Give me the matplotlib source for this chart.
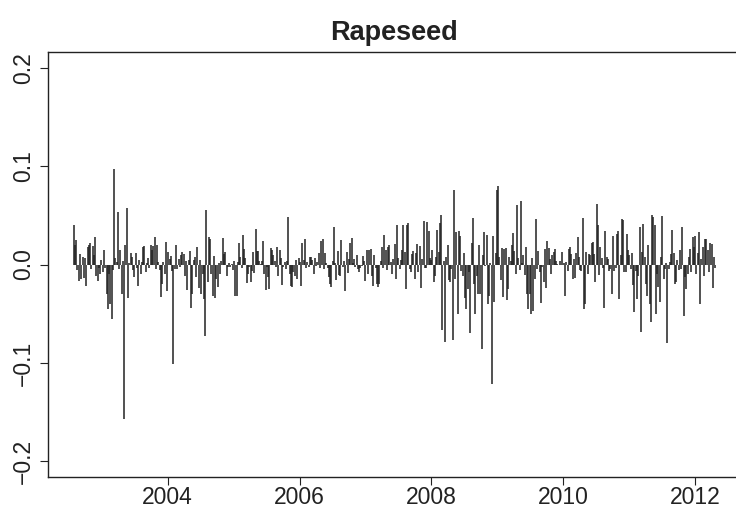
import numpy as np
import pandas as pd
import matplotlib
matplotlib.use('Agg')
import matplotlib.pyplot as plt
import matplotlib.dates as mdates

plt.rcParams['font.family'] = ['Liberation Sans', 'DejaVu Sans']

# Weekly returns of rapeseed (mid 2002 to spring 2012)
returns = [
    # 2002-07 .. 2004-02
    0.040, 0.020, 0.025, -0.006, -0.017, 0.011, -0.015, 0.008, -0.014, 0.007,
    -0.022, 0.018, 0.020, 0.022, -0.005, 0.019, 0.010, 0.028, -0.012, -0.017,
    -0.004, -0.010, 0.005, -0.008, 0.015, -0.004, -0.030, -0.045, -0.010, -0.040,
    -0.055, -0.006, 0.097, 0.007, 0.003, 0.053, -0.005, 0.015, -0.030, 0.004,
    -0.157, 0.020, 0.057, -0.034, 0.002, 0.012, 0.008, -0.006, -0.013, 0.012,
    -0.004, -0.022, 0.005, -0.010, 0.003, 0.018, 0.019, -0.008, 0.002, 0.007,
    -0.004, 0.020, 0.015, 0.019, 0.028, -0.005, 0.020, 0.003, -0.006, -0.033,
    -0.020, 0.003, -0.010, 0.023, -0.027, 0.013, 0.006, 0.009, -0.007, -0.101,
    -0.005, 0.020, -0.005, 0.006, -0.003,
    # 2004-03 .. 2005-10
    0.010, 0.013, 0.011, -0.012, 0.004, -0.026, 0.005, 0.014, -0.044, -0.030,
    0.005, 0.008, -0.013, 0.018, -0.024, 0.005, -0.030, -0.010, -0.035, -0.073,
    0.055, -0.018, 0.028, 0.026, -0.010, -0.032, 0.009, -0.034, -0.015, -0.023,
    0.002, -0.010, 0.004, 0.027, 0.011, 0.013, -0.012, -0.003, 0.002, -0.003,
    0.001, -0.006, 0.004, -0.032, -0.032, 0.003, 0.022, 0.008, -0.004, 0.030,
    0.016, 0.007, -0.019, -0.010, -0.003, -0.018, -0.007, 0.013, -0.009, 0.036,
    0.014, 0.014, 0.004, 0.001, 0.004, 0.024, -0.010, -0.026, -0.003, -0.013,
    -0.025, 0.017, 0.015, 0.010, 0.004, -0.003, 0.018, -0.012, 0.015, 0.007,
    -0.021, -0.003, 0.003, -0.005, 0.004,
    # 2005-11 .. 2007-07
    0.048, -0.010, -0.022, -0.023, -0.008, -0.012, 0.005, -0.015, 0.007, 0.003,
    -0.022, 0.022, 0.005, 0.026, -0.004, 0.003, -0.003, 0.008, 0.008, 0.005,
    -0.010, 0.007, -0.002, 0.003, 0.012, -0.004, 0.024, 0.026, -0.005, 0.012,
    0.002, -0.004, -0.013, -0.020, -0.023, 0.004, 0.038, 0.002, -0.016, 0.014,
    -0.011, -0.012, 0.025, -0.003, 0.004, -0.027, 0.013, -0.009, 0.006, 0.022,
    0.027, 0.002, 0.006, -0.003, 0.010, -0.005, -0.008, -0.004, -0.002, 0.009,
    0.004, -0.017, 0.015, -0.010, 0.015, 0.016, -0.012, -0.022, 0.010, -0.004,
    -0.020, -0.023, -0.020, 0.004, 0.018, -0.004, 0.030, 0.015, -0.006, 0.018,
    0.020, 0.003, -0.010, 0.006, 0.021, -0.015, 0.040, 0.007, -0.005,
    # 2007-07 .. 2009-03
    0.005, 0.015, 0.040, 0.013, -0.025, 0.040, 0.042, -0.005, -0.008, 0.011,
    0.014, -0.015, 0.012, 0.021, -0.008, 0.019, -0.024, 0.006, 0.044, -0.004,
    -0.004, 0.043, 0.034, 0.007, 0.005, 0.015, -0.018, -0.012, 0.008, 0.035,
    0.013, 0.042, 0.050, -0.067, 0.004, -0.079, 0.008, 0.020, -0.016, -0.018,
    -0.005, -0.077, 0.076, -0.015, 0.033, -0.050, 0.034, 0.029, -0.007, -0.012,
    0.012, -0.034, -0.045, -0.025, -0.008, -0.070, 0.022, 0.047, -0.020, -0.050,
    -0.012, -0.030, 0.020, -0.030, -0.086, 0.010, 0.033, -0.002, 0.030, -0.040,
    -0.032, 0.002, -0.121, 0.029, -0.038, 0.012, 0.076, 0.080, 0.008, -0.016,
    0.017, -0.033, 0.016, 0.017, -0.036, -0.025, 0.008, 0.004,
    # 2009-04 .. 2010-11
    0.020, 0.032, 0.014, -0.010, 0.060, 0.007, -0.006, 0.065, 0.002, 0.010,
    -0.011, 0.018, -0.030, -0.045, -0.030, -0.050, 0.007, -0.047, -0.015, 0.046,
    -0.005, 0.014, -0.008, -0.039, -0.003, -0.018, 0.016, -0.024, 0.024, 0.017,
    0.006, -0.010, 0.010, 0.013, 0.016, 0.004, 0.001, -0.001, 0.004, -0.001,
    0.013, 0.002, -0.032, 0.003, -0.007, 0.016, 0.018, 0.011, -0.015, 0.006,
    -0.014, 0.012, 0.028, 0.008, -0.006, -0.007, 0.047, -0.045, -0.040, 0.013,
    -0.010, 0.011, 0.010, 0.022, 0.023, 0.011, -0.018, 0.062, 0.040, -0.011,
    0.018, 0.007, -0.004, -0.044, 0.034, 0.008, 0.006, -0.007, -0.005, -0.030,
    0.029, -0.007, -0.004, 0.031, 0.034, -0.035, 0.010,
    # 2010-12 .. 2012-04
    0.046, 0.045, -0.008, -0.008, 0.031, 0.015, 0.010, -0.005, 0.012, -0.021,
    -0.048, -0.007, -0.035, -0.012, 0.038, -0.069, 0.013, 0.041, 0.008, -0.020,
    -0.032, 0.020, -0.040, -0.058, 0.050, 0.048, 0.040, -0.050, -0.010, -0.023,
    -0.038, 0.008, 0.049, -0.015, -0.005, 0.002, -0.080, -0.005, 0.003, 0.011,
    0.035, 0.012, -0.020, -0.018, 0.005, -0.006, 0.015, -0.005, 0.038, -0.052,
    -0.013, -0.025, -0.010, 0.008, 0.016, -0.008, 0.028, 0.018, 0.029, -0.010,
    0.012, 0.033, -0.040, 0.006, 0.018, -0.012, 0.026, 0.026, 0.015, -0.008,
    0.022, 0.021, -0.024, 0.008, -0.004,
]
start_date = '2002-07-29'
title = 'Rapeseed'
y_ticks = [-0.2, -0.1, 0.0, 0.1, 0.2]
y_labels = ['\u22120.2', '\u22120.1', '0.0', '0.1', '0.2']

dates = pd.date_range(start_date, periods=len(returns), freq='7D')
ret = np.array(returns)

fig = plt.figure(figsize=(7.36, 5.11), dpi=100)
# right edge of the box runs just past the picture, like the reference
ax = fig.add_axes([48 / 736, 34 / 511, 693 / 736, 425 / 511])

ax.vlines(dates, 0, ret, color='#222222', linewidth=1.1)

# R style 4% padding
span = dates[-1] - dates[0]
ax.set_xlim(dates[0] - span * 0.04, dates[-1] + span * 0.04)
ax.set_ylim(-0.216, 0.216)

ax.xaxis.set_major_locator(mdates.YearLocator(2))
ax.xaxis.set_major_formatter(mdates.DateFormatter('%Y'))
ax.set_yticks(y_ticks)
ax.set_yticklabels(y_labels)
for lab in ax.get_yticklabels():
    lab.set_rotation(90)
    lab.set_va('center')

ax.tick_params(axis='both', labelsize=16.5, colors='#222222', length=5.5, width=0.8)
ax.tick_params(axis='x', pad=1)
ax.tick_params(axis='y', pad=4)
for sp in ax.spines.values():
    sp.set_color('#222222')
    sp.set_linewidth(1.0)

ax.set_title(title, fontsize=19.5, fontweight='bold', color='#222222', pad=9)

plt.savefig('out.png', dpi=100)
plt.close('all')
